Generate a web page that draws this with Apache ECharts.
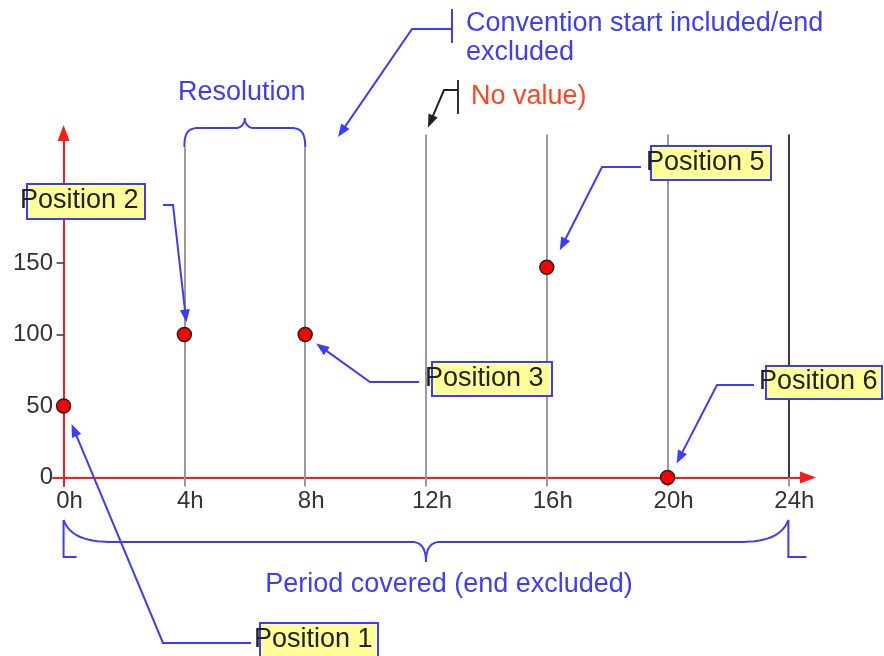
<!DOCTYPE html>
<html>
<head>
<meta charset="utf-8">
<script src="https://cdn.jsdelivr.net/npm/echarts@6/dist/echarts.min.js"></script>
<style>html,body{margin:0;padding:0;background:#fff}#c{width:884px;height:656px}</style>
</head>
<body>
<div id="c"></div>
<script>
// ---- data ----
const hours = [0, 4, 8, 12, 16, 20];
const values = [50, 100, 100, null, 147, 0];
const positionNames = ['Position 1', 'Position 2', 'Position 3', null, 'Position 5', 'Position 6'];
const xTickValues = [0, 4, 8, 12, 16, 20, 24];
const hourLines = [4, 8, 12, 16, 20, 24];
const yTickValues = [0, 50, 100, 150];
const yMinorTicks = [50, 100, 150];
const resolutionText = 'Resolution';
const conventionText = ['Convention start included/end', 'excluded'];
const noValueText = 'No value)';
const periodText = 'Period covered (end excluded)';

// ---- styles ----
const FONT = "'Liberation Sans', Arial, sans-serif";
const RED = '#ff1a1a';
const BLUE = '#3c3cff';
const GREY = '#9a9a9a';
const DARK = '#333333';
const LINE_TOP = 240, BRACE_LINE_TOP = 231;

const scatterData = hours.map((h, i) => [h, values[i]]).filter(d => d[1] !== null);

const option = {
  animation: false,
  backgroundColor: '#ffffff',
  grid: { left: 53, right: 76, top: 133, bottom: 170, containLabel: false, outerBoundsMode: 'none' },
  xAxis: {
    type: 'value', min: -0.35, max: 24.65,
    axisLine: { onZero: true, lineStyle: { color: RED, width: 2 }, symbol: ['none', 'triangle'], symbolSize: [12, 16] },
    axisTick: { show: true, customValues: hourLines, length: 9, lineStyle: { color: GREY, width: 2 } },
    axisLabel: { customValues: xTickValues, formatter: v => v + 'h', color: DARK, fontSize: 24, fontFamily: FONT, margin: 3, padding: [0, 0, 0, 12] },
    splitLine: { show: false }
  },
  yAxis: {
    type: 'value', min: -6, max: 241,
    axisLine: { onZero: true, lineStyle: { color: RED, width: 2 }, symbol: ['none', 'triangle'], symbolSize: [12, 16] },
    axisTick: { show: true, customValues: yMinorTicks, length: 7, lineStyle: { color: DARK, width: 1.5 } },
    axisLabel: { customValues: yTickValues, color: DARK, fontSize: 24, fontFamily: FONT, margin: 0 },
    splitLine: { show: false }
  },
  series: [
    {
      type: 'line', data: [], z: 1, silent: true,
      markLine: {
        silent: true, symbol: ['none', 'none'], label: { show: false },
        lineStyle: { color: GREY, width: 2, type: 'solid' },
        data: hourLines.map(h => [
          { coord: [h, 0], lineStyle: { color: h === 24 ? '#3a3a3a' : GREY, width: 2, type: 'solid' } },
          { coord: [h, (h === 4 || h === 8) ? BRACE_LINE_TOP : LINE_TOP] }
        ])
      }
    },
    {
      type: 'scatter', z: 5, data: scatterData, symbolSize: 14,
      itemStyle: { color: '#ff0000', borderColor: '#222', borderWidth: 1.5, opacity: 1 }
    }
  ]
};

const chart = echarts.init(document.getElementById('c'));
chart.setOption(option);

const px = (x, y) => chart.convertToPixel({ gridIndex: 0 }, [x, y]);

function cubic(p0, p1, p2, p3, n) {
  const out = [];
  n = n || 14;
  for (let i = 1; i <= n; i++) {
    const t = i / n, u = 1 - t;
    out.push([
      u*u*u*p0[0] + 3*u*u*t*p1[0] + 3*u*t*t*p2[0] + t*t*t*p3[0],
      u*u*u*p0[1] + 3*u*u*t*p1[1] + 3*u*t*t*p2[1] + t*t*t*p3[1]
    ]);
  }
  return out;
}
function line(points, color, width) {
  return { type: 'polyline', z: 50, silent: true, shape: { points: points }, style: { stroke: color, lineWidth: width || 2, fill: null } };
}
function arrow(points, color, width) {
  const els = [];
  const n = points.length;
  const [x2, y2] = points[n - 1], [x1, y1] = points[n - 2];
  const ang = Math.atan2(y2 - y1, x2 - x1);
  const L = 13, W = 5;
  const bx = x2 - L * Math.cos(ang), by = y2 - L * Math.sin(ang);
  const ox = -Math.sin(ang) * W, oy = Math.cos(ang) * W;
  const pts = points.slice(0, n - 1).concat([[bx + 2 * Math.cos(ang), by + 2 * Math.sin(ang)]]);
  els.push(line(pts, color, width));
  els.push({ type: 'polygon', z: 51, silent: true, shape: { points: [[x2, y2], [bx + ox, by + oy], [bx - ox, by - oy]] }, style: { fill: color } });
  return els;
}
function text(str, x, y, color, size, align) {
  return { type: 'text', z: 60, silent: true, style: { text: str, x: x, y: y, fill: color, font: (size || 27) + 'px ' + FONT, align: align || 'left', verticalAlign: 'middle', textAlign: align || 'left', textVerticalAlign: 'middle' } };
}

const pts = hours.map((h, i) => values[i] === null ? null : px(h, values[i]));

// annotation layout (pixels), tip offsets relative to each point
const annot = {
  0: { box: [260, 623, 118, 40], tx: 254, ty: 640, leader: [[251, 643], [163, 643]], tip: [8, 18] },
  1: { box: [27, 184, 118, 35], tx: 20, ty: 201, leader: [[163, 205], [173, 205]], tip: [2, -12] },
  2: { box: [432, 362, 120, 34], tx: 425, ty: 379, leader: [[419, 382], [370, 382]], tip: [11, 9] },
  4: { box: [651, 146, 120, 34], tx: 646, ty: 163, leader: [[641, 167], [602, 167]], tip: [13, -17] },
  5: { box: [766, 366, 116, 33], tx: 759, ty: 382, leader: [[754, 385], [717, 385]], tip: [9, -14] }
};

const g = [];
Object.keys(annot).forEach(k => {
  const a = annot[k], p = pts[k];
  const tip = [p[0] + a.tip[0], p[1] + a.tip[1]];
  arrow(a.leader.concat([tip]), BLUE, 2).forEach(e => g.push(e));
  g.push({ type: 'rect', z: 55, silent: true, shape: { x: a.box[0], y: a.box[1], width: a.box[2], height: a.box[3] }, style: { fill: '#ffff99', stroke: BLUE, lineWidth: 2 } });
  g.push(text(positionNames[k], a.tx, a.ty, '#222', 27));
});

// Resolution brace between 4h and 8h
const x4 = px(4, 0)[0], x8 = px(8, 0)[0], cx = (x4 + x8) / 2;
let b = [[x4, 147]];
b = b.concat(cubic([x4, 147], [x4, 134], [x4 + 3, 128], [x4 + 14, 128]));
b.push([cx - 9, 128]);
b = b.concat(cubic([cx - 9, 128], [cx - 4, 128], [cx, 124], [cx, 118]));
b = b.concat(cubic([cx, 118], [cx, 124], [cx + 4, 128], [cx + 9, 128]));
b.push([x8 - 14, 128]);
b = b.concat(cubic([x8 - 14, 128], [x8 - 3, 128], [x8, 134], [x8, 147]));
g.push(line(b, BLUE, 2));
g.push(text(resolutionText, cx - 3, 93, BLUE, 27, 'center'));

// Period brace 0h..24h
const x0 = px(0, 0)[0], x24 = px(24, 0)[0], mid = px(12, 0)[0];
let pb = [[x0, 520]];
pb = pb.concat(cubic([x0, 520], [x0 + 6, 536], [x0 + 22, 542], [x0 + 50, 542]));
pb.push([mid - 14, 542]);
pb = pb.concat(cubic([mid - 14, 542], [mid - 5, 542], [mid, 548], [mid, 562]));
pb = pb.concat(cubic([mid, 562], [mid, 548], [mid + 5, 542], [mid + 14, 542]));
pb.push([x24 - 50, 542]);
pb = pb.concat(cubic([x24 - 50, 542], [x24 - 22, 542], [x24 - 6, 536], [x24, 520]));
g.push(line(pb, BLUE, 2));
g.push(line([[x0, 520], [x0, 557], [x0 + 13, 557]], BLUE, 2));
g.push(line([[x24, 520], [x24, 557], [x24 + 18, 557]], BLUE, 2));
g.push(text(periodText, 449, 585, BLUE, 27, 'center'));

// Convention annotation
g.push(line([[452, 9], [452, 43]], BLUE, 2));
arrow([[452, 29], [412, 29], [338, 137]], BLUE, 2).forEach(e => g.push(e));
g.push(text(conventionText[0], 466, 24, BLUE, 27));
g.push(text(conventionText[1], 466, 53, BLUE, 27));

// No value annotation (points to the 12h line)
const x12top = px(12, LINE_TOP);
g.push(line([[458, 80], [458, 114]], DARK, 2));
arrow([[458, 90], [444, 90], [x12top[0] + 2, x12top[1] - 7]], '#222', 2).forEach(e => g.push(e));
g.push(text(noValueText, 471, 97, '#ff4422', 27));

chart.setOption({ graphic: { elements: g } });
</script>
</body>
</html>
